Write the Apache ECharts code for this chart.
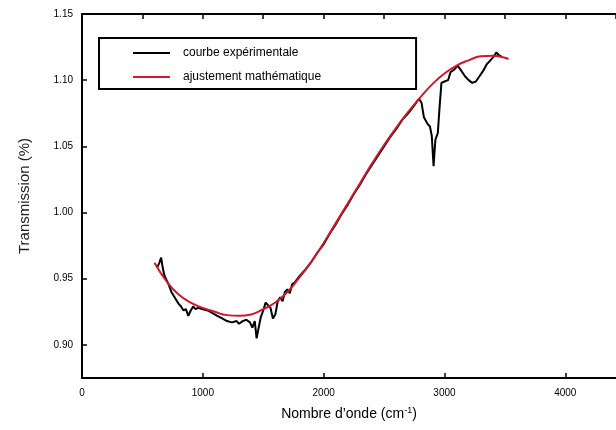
<!DOCTYPE html>
<html>
<head>
<meta charset="utf-8">
<script src="https://cdn.jsdelivr.net/npm/echarts@6/dist/echarts.min.js"></script>
<style>
  html, body { margin: 0; padding: 0; background: #fff; }
  #main { width: 616px; height: 430px; }
</style>
</head>
<body>
<div id="main"></div>
<script>
// courbe expérimentale (nombre d'onde, transmission)
var expX = [620, 640, 655, 665, 680, 700, 720, 740, 760, 780, 800, 820, 840, 860, 880, 900, 920, 940, 960,
    1000, 1040, 1080, 1120, 1160, 1200, 1240, 1280, 1300, 1330, 1360, 1390, 1410, 1430, 1445, 1460, 1480,
    1500, 1520, 1540, 1560, 1580, 1600, 1620, 1640, 1660, 1680, 1700, 1720, 1740, 1760, 1800, 1850, 1900,
    1950, 2000, 2050, 2100, 2150, 2200, 2250, 2300, 2350, 2400, 2450, 2500, 2550, 2600, 2650, 2700, 2750,
    2790, 2810, 2830, 2860, 2880, 2895, 2910, 2925, 2945, 2960, 2975, 3000, 3030, 3050, 3080, 3110, 3140,
    3170, 3200, 3230, 3260, 3290, 3320, 3350, 3380, 3410, 3430, 3450, 3470];
var expY = [0.958, 0.962, 0.966, 0.960, 0.953, 0.949, 0.945, 0.940, 0.937, 0.934, 0.931, 0.929, 0.926, 0.927,
    0.922, 0.926, 0.929, 0.927, 0.928, 0.927, 0.926, 0.924, 0.922, 0.920, 0.918, 0.917, 0.918, 0.916, 0.918,
    0.919, 0.917, 0.913, 0.918, 0.905, 0.912, 0.921, 0.926, 0.932, 0.930, 0.928, 0.920, 0.923, 0.933, 0.936,
    0.933, 0.940, 0.942, 0.939, 0.946, 0.947, 0.952, 0.957, 0.963, 0.970, 0.976, 0.984, 0.991, 0.999, 1.006,
    1.014, 1.021, 1.029, 1.036, 1.043, 1.050, 1.057, 1.063, 1.070, 1.075, 1.081, 1.086, 1.083, 1.072, 1.067,
    1.065, 1.058, 1.035, 1.055, 1.060, 1.080, 1.098, 1.099, 1.100, 1.106, 1.108, 1.111, 1.107, 1.103, 1.100,
    1.098, 1.099, 1.103, 1.107, 1.112, 1.115, 1.118, 1.121, 1.119, 1.118];

// ajustement mathématique
var fitX = [600, 700, 800, 900, 1000, 1100, 1200, 1300, 1400, 1500, 1600, 1700, 1800, 1900, 2000, 2100,
    2200, 2300, 2400, 2500, 2600, 2700, 2800, 2900, 3000, 3100, 3200, 3300, 3400, 3500, 3530];
var fitY = [0.962, 0.948, 0.938, 0.932, 0.928, 0.925, 0.9225, 0.922, 0.923, 0.927, 0.932, 0.940, 0.951,
    0.963, 0.977, 0.992, 1.007, 1.022, 1.037, 1.051, 1.064, 1.076, 1.087, 1.097, 1.105, 1.111, 1.115,
    1.118, 1.1185, 1.117, 1.116];

var seriesNames = ['courbe expérimentale', 'ajustement mathématique'];

function pairs(xs, ys) {
    var out = [];
    for (var i = 0; i < xs.length; i++) out.push([xs[i], ys[i]]);
    return out;
}

var myChart = echarts.init(document.getElementById('main'));
var font = 'Liberation Sans, Arial, sans-serif';
var axisLine = { show: true, lineStyle: { color: '#000', width: 2 } };
var tick = { show: true, inside: true, length: 5, lineStyle: { color: '#000', width: 1.5 } };

var option = {
    backgroundColor: '#fff',
    animation: false,
    textStyle: { fontFamily: font },
    grid: { left: 82, right: 0, top: 14, bottom: 52 },
    legend: {
        orient: 'vertical',
        left: 99,
        top: 38,
        padding: [8, 95, 5, 34],
        itemWidth: 37,
        itemHeight: 2,
        itemGap: 10,
        borderColor: '#000',
        borderWidth: 2,
        icon: 'rect',
        data: seriesNames,
        textStyle: { color: '#000', fontSize: 12, fontFamily: font, lineHeight: 14, padding: [0, 0, 0, 8] }
    },
    xAxis: [{
        type: 'value',
        position: 'bottom',
        min: 0,
        max: 4420,
        interval: 1000,
        axisLine: axisLine,
        axisTick: tick,
        splitLine: { show: false },
        axisLabel: {
            color: '#000', fontSize: 10, margin: 10, showMaxLabel: false,
            formatter: function (v) { return String(v); }
        },
        name: 'Nombre d\u2019onde (cm{s|-1})',
        nameLocation: 'middle',
        nameGap: 28,
        nameTextStyle: {
            color: '#000', fontSize: 14, fontFamily: font,
            rich: { s: { fontSize: 9, verticalAlign: 'top', padding: [0, 0, 8, 0] } }
        }
    }, {
        type: 'value',
        position: 'top',
        min: 0,
        max: 4420,
        interval: 500,
        axisLine: axisLine,
        axisTick: tick,
        splitLine: { show: false },
        axisLabel: { show: false }
    }],
    yAxis: {
        type: 'value',
        min: 0.875,
        max: 1.15,
        splitNumber: 5,
        axisLine: axisLine,
        axisTick: tick,
        splitLine: { show: false },
        axisLabel: {
            color: '#000', fontSize: 10, margin: 9,
            formatter: function (v) {
                return Math.abs(v * 20 - Math.round(v * 20)) < 1e-6 ? v.toFixed(2) : '';
            }
        },
        name: 'Transmission (%)',
        nameLocation: 'middle',
        nameGap: 50,
        nameTextStyle: { color: '#222', fontSize: 15, fontFamily: font }
    },
    series: [{
        name: seriesNames[0],
        type: 'line',
        showSymbol: false,
        symbol: 'none',
        data: pairs(expX, expY),
        lineStyle: { color: '#000', width: 2 },
        itemStyle: { color: '#000' },
        z: 2
    }, {
        name: seriesNames[1],
        type: 'line',
        showSymbol: false,
        symbol: 'none',
        smooth: true,
        data: pairs(fitX, fitY),
        lineStyle: { color: '#cc1a2e', width: 2 },
        itemStyle: { color: '#cc1a2e' },
        z: 3
    }]
};

myChart.setOption(option);
</script>
</body>
</html>
